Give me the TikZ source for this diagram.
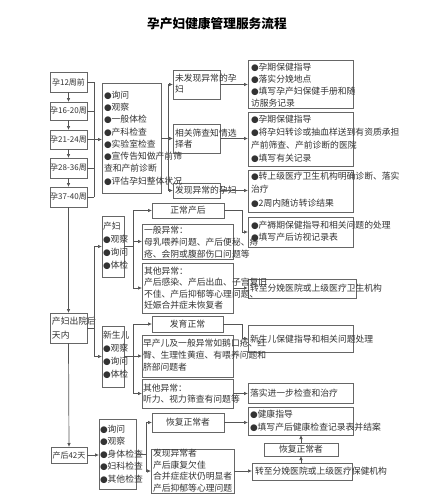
\documentclass[tikz,border=0pt]{standalone}
\usepackage{fontspec}
\setmainfont{Noto Sans CJK SC}
\newfontfamily\dejavu{DejaVu Sans}
\usetikzlibrary{arrows.meta}
\definecolor{textc}{HTML}{333333}
\definecolor{linec}{HTML}{555555}
\definecolor{boxc}{HTML}{666666}
\newcommand\fs[2]{\fontsize{#1}{#2}\selectfont}
\newcommand\bu{{\dejavu ●}}
\newcommand\bx[5]{\node[bxs,minimum width={(#4-#2)*1pt},minimum height={(#5-#3)*1pt}] (#1) at ({(#2+#4)/2},{(#3+#5)/2}) {};}
\newcommand\tx[5][]{\node[txs,#1] (#2) at (#3,#4) {#5};}
\begin{document}
\begin{tikzpicture}[x=1pt,y=-1pt,
 bxs/.style={draw=boxc,line width=0.7pt,inner sep=0pt,outer sep=0pt},
 txs/.style={anchor=west,align=left,inner sep=0pt,outer sep=0pt,text=textc,font=\fs{8.8}{12.3}},
 ln/.style={draw=linec,line width=0.7pt},
 arr/.style={ln,-{Latex[length=4pt,width=3.5pt]}}]
\useasboundingbox (0,0) rectangle (425,504);
\fill[white] (0,0) rectangle (425,504);
\node[txs,anchor=center,font=\fs{12.7}{14}\bfseries,text=black] (title) at (217,23.5) {孕产妇健康管理服务流程};
% boxes
\bx{L1}{50}{72}{87}{92}
\bx{L2}{50}{102}{87}{120}
\bx{L3}{50}{130}{87}{149}
\bx{L4}{50}{158}{87}{178}
\bx{L5}{50}{187}{87}{207}
\bx{Big}{102}{83}{161}{193}
\bx{N1}{173}{70}{220}{99}
\bx{N2}{173}{124}{220}{153}
\bx{N3}{173}{183}{220}{198}
\bx{A}{248}{60}{353}{108}
\bx{B}{248}{112}{353}{166}
\bx{C}{248}{170}{353}{212}
\bx{P}{50}{313}{87}{343}
\bx{M}{102}{216}{124}{277}
\bx{Q1}{152}{203}{224}{218}
\bx{Q2}{142}{224}{233}{259}
\bx{Q3}{142}{263}{233}{313}
\bx{D}{248}{217}{353}{247}
\bx{E}{248}{279}{356}{298}
\bx{NB}{102}{326}{124}{387}
\bx{R1}{152}{316}{223}{332}
\bx{R2}{142}{335}{233}{377}
\bx{R3}{142}{379}{233}{408}
\bx{F}{248}{325}{353}{352}
\bx{G}{248}{383}{353}{403}
\bx{K}{51}{447}{87}{463}
\bx{X}{99}{419}{136}{489}
\bx{S1}{152}{413}{224}{432}
\bx{S2}{151}{449}{234}{493}
\bx{H}{248}{407}{353}{435}
\bx{T}{264}{443}{338}{456}
\bx{I}{252}{463}{352}{480}
% texts
\node[txs,anchor=center,font=\fs{8}{10}] (tL1) at (L1) {孕12周前};
\node[txs,anchor=center,font=\fs{8}{10}] (tL2) at (L2) {孕16-20周};
\node[txs,anchor=center,font=\fs{8}{10}] (tL3) at (L3) {孕21-24周};
\node[txs,anchor=center,font=\fs{8}{10}] (tL4) at (L4) {孕28-36周};
\node[txs,anchor=center,font=\fs{8}{10}] (tL5) at (L5) {孕37-40周};
\tx{tBig}{104}{138}{\bu{}询问\\\bu{}观察\\\bu{}一般体检\\\bu{}产科检查\\\bu{}实验室检查\\\bu{}宣传告知做产前筛\\查和产前诊断\\\bu{}评估孕妇整体状况}
\tx[font=\fs{8.8}{11}]{tN1}{175}{83.2}{未发现异常的孕\\妇}
\tx[font=\fs{8.8}{11}]{tN2}{175}{138.5}{相关筛查知情选\\择者}
\tx{tN3}{175}{190.5}{发现异常的孕妇}
\tx[font=\fs{8.8}{12}]{tA}{251}{85}{\bu{}孕期保健指导\\\bu{}落实分娩地点\\\bu{}填写孕产妇保健手册和随\\访服务记录}
\tx[font=\fs{8.8}{13}]{tB}{251}{138.5}{\bu{}孕期保健指导\\\bu{}将孕妇转诊或抽血样送到有资质承担\\产前筛查、产前诊断的医院\\\bu{}填写有关记录}
\tx[font=\fs{8.8}{13.5}]{tC}{251}{189.5}{\bu{}转上级医疗卫生机构明确诊断、落实\\治疗\\\bu{}2周内随访转诊结果}
\tx[font=\fs{8.8}{14.3}]{tP}{52}{328}{产妇出院后\\天内}
\tx[font=\fs{8.8}{12.8}]{tM}{103}{246}{产妇\\\bu{}观察\\\bu{}询问\\\bu{}体检}
\tx[font=\fs{8.8}{12.8}]{tNB}{103}{355}{新生儿\\\bu{}观察\\\bu{}询问\\\bu{}体检}
\node[txs,anchor=center] (tQ1) at (Q1) {正常产后};
\tx[font=\fs{8.8}{12}]{tQ2}{144}{242}{一般异常：\\母乳喂养问题、产后便秘、痔\\疮、会阴或腹部伤口问题等}
\tx[font=\fs{8.8}{11.5}]{tQ3}{144}{288.3}{其他异常：\\产后感染、产后出血、子宫复旧\\不佳、产后抑郁等心理问题、\\妊娠合并症未恢复者}
\tx[font=\fs{8.8}{12.7}]{tD}{251}{231.3}{\bu{}产褥期保健指导和相关问题的处理\\\bu{}填写产后访视记录表}
\tx{tE}{250}{288.3}{转至分娩医院或上级医疗卫生机构}
\node[txs,anchor=center] (tR1) at (R1) {发育正常};
\tx[font=\fs{8.8}{11.7}]{tR2}{143}{355}{早产儿及一般异常如鹅口疮、红\\臀、生理性黄疸、有喂养问题和\\脐部问题者}
\tx[font=\fs{8.8}{11}]{tR3}{143}{393.8}{其他异常：\\听力、视力筛查有问题等}
\tx{tF}{250}{339.3}{新生儿保健指导和相关问题处理}
\tx{tG}{250}{393.3}{落实进一步检查和治疗}
\node[txs,anchor=center,font=\fs{8}{10}] (tK) at (K) {产后42天};
\tx[font=\fs{8.8}{12.6}]{tX}{100}{454.2}{\bu{}询问\\\bu{}观察\\\bu{}身体检查\\\bu{}妇科检查\\\bu{}其他检查}
\node[txs,anchor=center] (tS1) at (S1) {恢复正常者};
\tx[font=\fs{8.8}{11.8}]{tS2}{153}{470.7}{发现异常者\\产后康复欠佳\\合并症症状仍明显者\\产后抑郁等心理问题}
\tx[font=\fs{8.8}{13.3}]{tH}{250}{420.7}{\bu{}健康指导\\\bu{}填写产后健康检查记录表并结案}
\node[txs,anchor=center] (tT) at (T) {恢复正常者};
\tx{tI}{255}{471}{转至分娩医院或上级医疗保健机构}
% connectors: left column
\draw[arr] (L1.south) -- (L2.north);
\draw[arr] (L2.south) -- (L3.north);
\draw[arr] (L3.south) -- (L4.north);
\draw[arr] (L4.south) -- (L5.north);
\draw[arr] (L5.south) -- (P.north);
\draw[arr] (P.south) -- (K.north);
% prenatal bus
\coordinate (b1) at (94,139.5);
\foreach \n in {L1,L2,L3,L4,L5} \draw[ln] (\n.east) -- (\n.east -| b1);
\draw[ln] (L1.east -| b1) -- (L5.east -| b1);
\draw[arr] (L3.east -| b1) -- (L3.east -| Big.west);
\coordinate (b2) at (168,138);
\draw[ln] (Big.east) -- (Big.east -| b2);
\draw[ln] (N1.west -| b2) -- (N3.west -| b2);
\foreach \n in {N1,N2,N3} \draw[arr] (\n.west -| b2) -- (\n.west);
\draw[arr] (N1.east) -- (N1.east -| A.west);
\draw[arr] (N2.east) -- (N2.east -| B.west);
\draw[arr] (N3.east) -- (N3.east -| C.west);
% postnatal bus
\coordinate (b3) at (94,328);
\draw[ln] (P.east) -- (P.east -| b3);
\draw[ln] (M.west -| b3) -- (NB.west -| b3);
\draw[arr] (M.west -| b3) -- (M.west);
\draw[arr] (NB.west -| b3) -- (NB.west);
% mother
\coordinate (b4) at (133,246.5);
\draw[ln] (M.east) -- (M.east -| b4);
\draw[ln] (Q1.west -| b4) -- (Q3.west -| b4);
\foreach \n in {Q1,Q2,Q3} \draw[arr] (\n.west -| b4) -- (\n.west);
\coordinate (j1) at (242,232);
\draw[arr] (Q1.east) -| (j1) -- (D.west);
\draw[arr] (Q3.east) -- (Q3.east -| E.west);
% newborn
\coordinate (b5) at (133,356.5);
\draw[ln] (NB.east) -- (NB.east -| b5);
\draw[ln] (R1.west -| b5) -- (R3.west -| b5);
\foreach \n in {R1,R2,R3} \draw[arr] (\n.west -| b5) -- (\n.west);
\coordinate (j2) at (242,338.5);
\draw[arr] (R1.east) -| (j2) -- (F.west);
\draw[arr] (R3.east) -- (R3.east -| G.west);
% 42 days
\draw[arr] (K.east) -- (K.east -| X.west);
\coordinate (b6) at (146,454);
\draw[ln] (X.east) -- (X.east -| b6);
\draw[ln] (S1.west -| b6) -- (S2.west -| b6);
\foreach \n in {S1,S2} \draw[arr] (\n.west -| b6) -- (\n.west);
\draw[arr] (S1.east) -- (S1.east -| H.west);
\draw[arr] (S2.east) -- (S2.east -| I.west);
\draw[arr] (I.north -| T.south) -- (T.south);
\draw[arr] (T.north) -- (T.north |- H.south);
\end{tikzpicture}
\end{document}
